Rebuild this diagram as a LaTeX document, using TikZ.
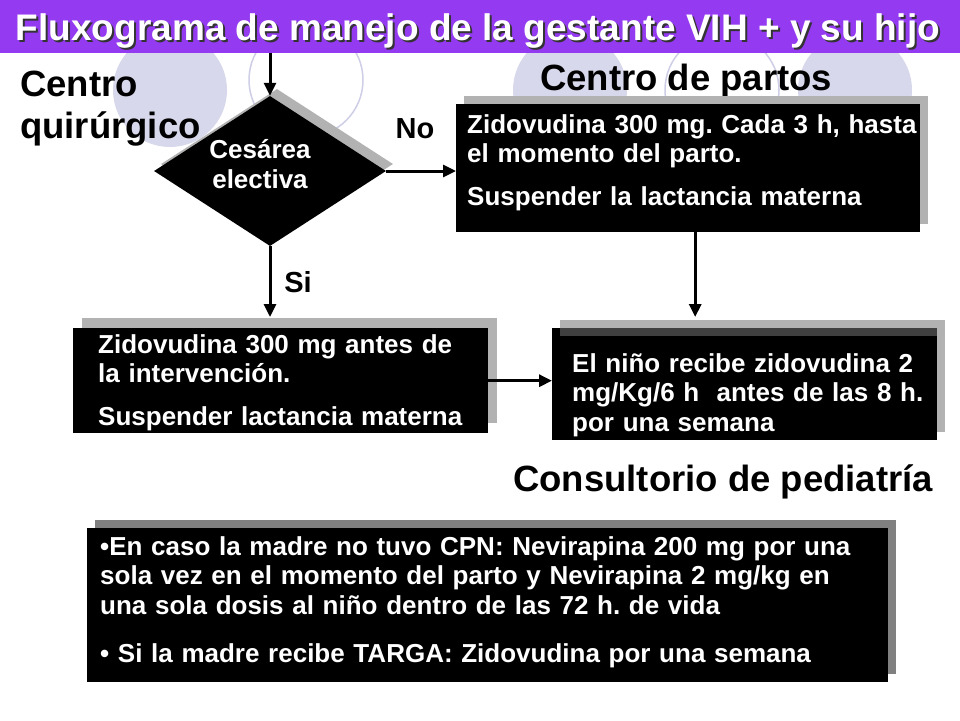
\documentclass[tikz,border=0pt]{standalone}
\usepackage{fontspec}
\setmainfont{Liberation Sans}
\usetikzlibrary{calc,shapes.geometric,shadows,arrows.meta}

\definecolor{morado}{RGB}{148,58,240}
\definecolor{lavanda}{RGB}{216,216,236}
\definecolor{lavandalinea}{RGB}{206,206,230}
\definecolor{grisclaro}{RGB}{178,178,178}
\definecolor{grisoscuro}{RGB}{128,128,128}
\definecolor{franja}{RGB}{64,64,64}

\frenchspacing

\tikzset{
  flecha/.style={line width=3pt,-{Triangle[length=13pt,width=12pt]}},
  titulo/.style={font=\bfseries\fontsize{37}{42}\selectfont,inner sep=0pt,anchor=base},
  seccion/.style={font=\bfseries\fontsize{36.5}{42}\selectfont,inner sep=0pt},
  etiqueta/.style={font=\bfseries\fontsize{29}{33}\selectfont,inner sep=0pt,anchor=base},
  caja/.style={fill=black,text=white,inner sep=0pt,anchor=north west,align=left,
    font=\bfseries\fontsize{26}{29.5}\selectfont},
  sombra/.style={drop shadow={shadow xshift=8pt,shadow yshift=8pt,fill=#1,opacity=1}},
  sombra/.default=grisclaro,
  margen/.style={execute at begin node={\leftskip=#1pt\relax}},
  diamante/.style={shape=diamond,fill=black,inner sep=0pt,
    minimum width=232pt,minimum height=150pt,
    drop shadow={shadow xshift=7pt,shadow yshift=7pt,fill=grisclaro,opacity=1}},
  textodiamante/.style={text=white,inner sep=0pt,anchor=north,align=center,
    text width=140pt,text height=20pt,font=\bfseries\fontsize{26}{30}\selectfont}
}

\begin{document}
\begin{tikzpicture}[x=1pt,y=-1pt]
  % fondo
  \useasboundingbox (0,0) rectangle (960,720);
  \fill[white] (0,0) rectangle (960,720);

  % circulos de la plantilla
  \foreach \cx/\cy in {170/90,570/90,855/90}{
    \fill[lavanda] (\cx,\cy) circle (57pt);
  }
  \foreach \cx/\cy in {306/80,722/90}{
    \draw[lavandalinea,line width=1.5pt] (\cx,\cy) circle (57pt);
  }

  % barra del titulo
  \fill[morado] (0,0) rectangle (960,53);
  \node[titulo,text=black!80] (titulosombra) at (480,42) {Fluxograma de manejo de la gestante VIH + y su hijo};
  \node[titulo,text=white] (titulo) at (478,40) {Fluxograma de manejo de la gestante VIH + y su hijo};

  % lugares
  \node[seccion,text width=220pt,align=left,anchor=base west] (quirurgico) at (20,96) {Centro\\quirúrgico};
  \node[seccion,anchor=base west] (partos) at (540,90) {Centro de partos};
  \node[seccion,anchor=base west] (pediatria) at (513,491) {Consultorio de pediatría};

  % decision
  \node[diamante] (cesarea) at (270,171) {};
  \node[textodiamante] (cesareatexto) at (260,138) {Cesárea\\electiva};

  % cajas
  \node[caja,sombra,margen=11,text width=464pt,text height=29pt,text depth=99pt] (parto) at (456,104)
    {Zidovudina 300 mg. Cada 3 h, hasta\\el momento del parto.\\[13pt]Suspender la lactancia materna};
  \node[caja,drop shadow={shadow xshift=9pt,shadow yshift=10pt,fill=grisclaro,opacity=1},
    margen=25,text width=415pt,text height=25pt,text depth=80pt] (cirugia) at (73,328)
    {Zidovudina 300 mg antes de\\la intervención.\\[13pt]Suspender lactancia materna};
  \node[caja,sombra,margen=20,text width=385pt,text height=44pt,text depth=68pt] (nino) at (552,328)
    {El niño recibe zidovudina 2\\mg/Kg/6 h\ \ antes de las 8 h.\\por una semana};
  \fill[franja] ($(nino.north west)+(8,0)$) rectangle ($(nino.north east)+(0,8)$);
  \node[caja,sombra=grisoscuro,margen=13,text width=801pt,text height=27pt,text depth=127pt] (recien) at (87,528)
    {•En caso la madre no tuvo CPN: Nevirapina 200 mg por una\\sola vez en el momento del parto y Nevirapina 2 mg/kg en\\una sola dosis al niño dentro de las 72 h. de vida\\[19pt]• Si la madre recibe TARGA: Zidovudina por una semana};

  % etiquetas
  \node[etiqueta] (no) at (415,138) {No};
  \node[etiqueta] (si) at (298,292) {Si};

  % flechas
  \coordinate (entrada) at (270,53);
  \draw[flecha] (entrada) -- (cesarea.north);
  \draw[flecha] (cesarea.east) -- (cesarea.east -| parto.west);
  \draw[flecha] (cesarea.south) -- ($(cesarea.south |- cirugia.north)+(0,-11)$);
  \draw[flecha] ($(parto.south)+(7,0)$) -- ($(parto.south |- nino.north)+(7,-11)$);
  \draw[flecha] (cirugia.east) -- (cirugia.east -| nino.west);
\end{tikzpicture}
\end{document}
